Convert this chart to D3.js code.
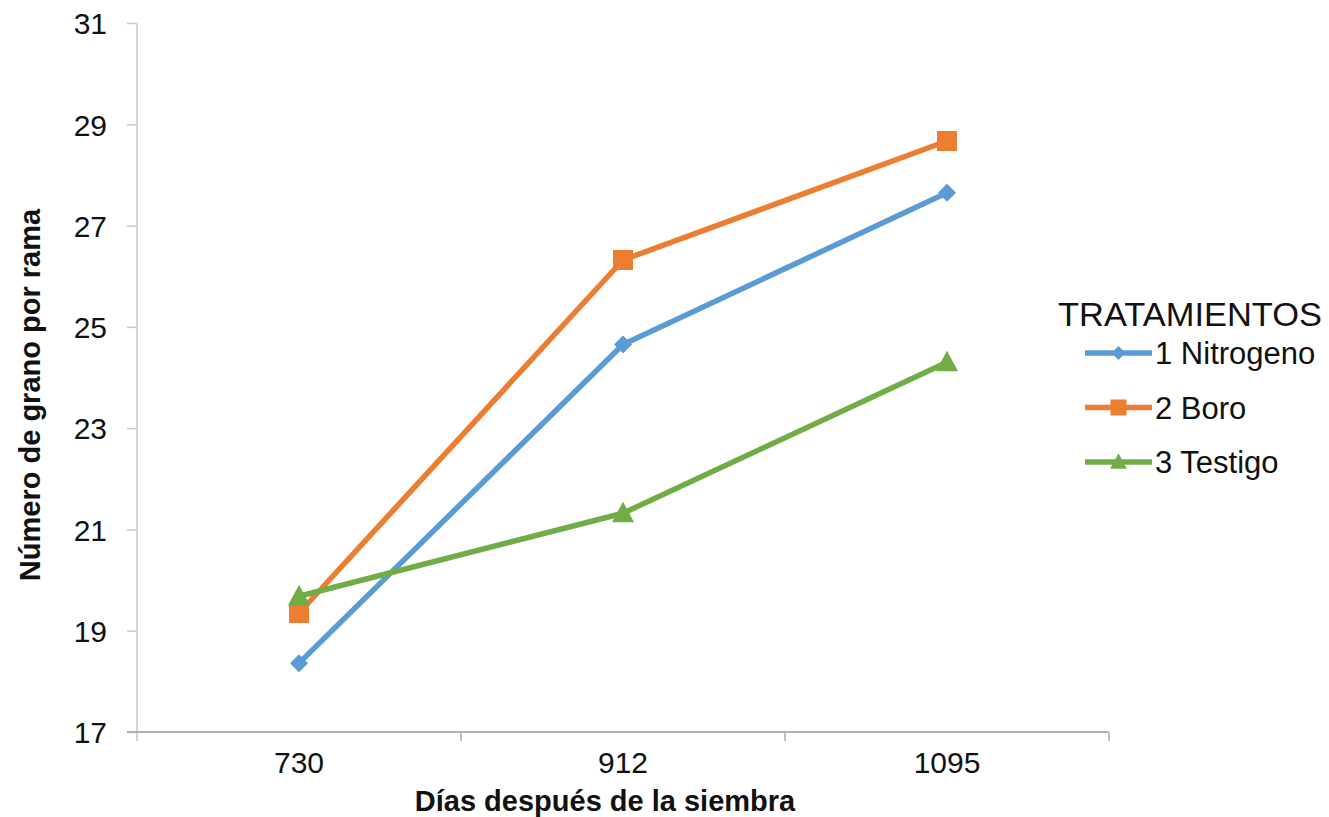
<!DOCTYPE html>
<html>
<head>
<meta charset="utf-8">
<script src="https://cdn.jsdelivr.net/npm/d3@7"></script>
<style>
  html, body { margin: 0; padding: 0; background: #fff; }
  svg { display: block; }
  text { font-family: "Liberation Sans", Arial, sans-serif; fill: #111; }
</style>
</head>
<body>
<svg id="chart" width="1329" height="817"></svg>
<script>
// Days after sowing (categories)
const days = ["730", "912", "1095"];
// Number of grains per branch, per treatment
const nitrogeno = [18.36, 24.65, 27.65];
const boro = [19.35, 26.32, 28.67];
const testigo = [19.68, 21.32, 24.30];
const seriesNames = ["1 Nitrogeno", "2 Boro", "3 Testigo"];
const yTicks = [17, 19, 21, 23, 25, 27, 29, 31];

const series = [
  { name: seriesNames[0], values: nitrogeno, color: "#5B9BD5", symbol: "diamond" },
  { name: seriesNames[1], values: boro, color: "#ED7D31", symbol: "square" },
  { name: seriesNames[2], values: testigo, color: "#70AD47", symbol: "triangle" }
];

const svg = d3.select("#chart");
const plotLeft = 137, plotRight = 1109, plotTop = 23, plotBottom = 732;

const x = d3.scaleBand().domain(days).range([plotLeft, plotRight]).padding(0);
const y = d3.scaleLinear().domain([17, 31]).range([plotBottom, plotTop]);
const cx = d => x(d) + x.bandwidth() / 2;

// Y axis
const yAxis = svg.append("g").attr("transform", `translate(${plotLeft},0)`)
  .call(d3.axisLeft(y).tickValues(yTicks).tickSize(10).tickPadding(20).tickFormat(d3.format("d")));
yAxis.select(".domain").remove();
yAxis.selectAll(".tick line").attr("stroke", "#c8c8c8").attr("stroke-width", 1.5);
yAxis.selectAll(".tick text").style("font-size", "30px").attr("fill", "#111")
  .attr("dy", "0.36em");
svg.append("line").attr("x1", plotLeft).attr("x2", plotLeft).attr("y1", plotTop).attr("y2", plotBottom + 9)
  .attr("stroke", "#d4d4d4").attr("stroke-width", 2);

// X axis
const xAxis = svg.append("g").attr("transform", `translate(0,${plotBottom})`)
  .call(d3.axisBottom(x).tickSize(0).tickPadding(20));
xAxis.select(".domain").remove();
xAxis.selectAll(".tick line").remove();
xAxis.selectAll(".tick text").style("font-size", "30px").attr("fill", "#111");
svg.append("line").attr("x1", plotLeft - 10).attr("x2", plotRight).attr("y1", plotBottom).attr("y2", plotBottom)
  .attr("stroke", "#b0b0b0").attr("stroke-width", 2);
svg.append("g").selectAll("line")
  .data(days.slice(1).concat(["__end"]))
  .join("line")
  .attr("x1", (d, i) => i < days.length - 1 ? x(d) : plotRight)
  .attr("x2", (d, i) => i < days.length - 1 ? x(d) : plotRight)
  .attr("y1", plotBottom).attr("y2", plotBottom + 9)
  .attr("stroke", "#c0c0c0").attr("stroke-width", 2);

// Axis titles
svg.append("text").attr("x", 605).attr("y", 811).attr("text-anchor", "middle")
  .style("font-size", "29px").style("font-weight", "bold").text("Días después de la siembra");
svg.append("text").attr("transform", "translate(40,395) rotate(-90)").attr("text-anchor", "middle")
  .style("font-size", "29px").style("font-weight", "bold").text("Número de grano por rama");

// Marker shapes
function marker(sel, symbol, color, size) {
  if (symbol === "diamond") {
    sel.append("path").attr("d", `M0,${-size}L${size},0L0,${size}L${-size},0Z`).attr("fill", color);
  } else if (symbol === "square") {
    sel.append("rect").attr("x", -size).attr("y", -size).attr("width", 2 * size).attr("height", 2 * size).attr("fill", color);
  } else {
    sel.append("path").attr("d", `M0,${-size * 1.1}L${size * 1.05},${size * 0.85}L${-size * 1.05},${size * 0.85}Z`).attr("fill", color);
  }
}
const sizes = { diamond: 9, square: 10, triangle: 10.5 };

// Lines and markers
const line = d3.line().x((d, i) => cx(days[i])).y(d => y(d));
series.forEach(s => {
  svg.append("path").datum(s.values).attr("d", line).attr("fill", "none")
    .attr("stroke", s.color).attr("stroke-width", 5.5).attr("stroke-linejoin", "round");
});
series.forEach(s => {
  s.values.forEach((v, i) => {
    const g = svg.append("g").attr("transform", `translate(${cx(days[i])},${y(v)})`);
    marker(g, s.symbol, s.color, sizes[s.symbol]);
  });
});

// Legend
const legend = svg.append("g");
legend.append("text").attr("x", 1058).attr("y", 326).style("font-size", "33px")
  .attr("textLength", 264).attr("lengthAdjust", "spacingAndGlyphs").text("TRATAMIENTOS");
series.forEach((s, i) => {
  const ly = 353 + i * 54.5;
  const g = legend.append("g");
  g.append("line").attr("x1", 1085).attr("x2", 1152).attr("y1", ly).attr("y2", ly)
    .attr("stroke", s.color).attr("stroke-width", 5.5);
  const m = g.append("g").attr("transform", `translate(1118.5,${ly})`);
  marker(m, s.symbol, s.color, s.symbol === "diamond" ? 7 : 8);
  g.append("text").attr("x", 1155).attr("y", ly + 11).style("font-size", "31px").text(s.name);
});
</script>
</body>
</html>
